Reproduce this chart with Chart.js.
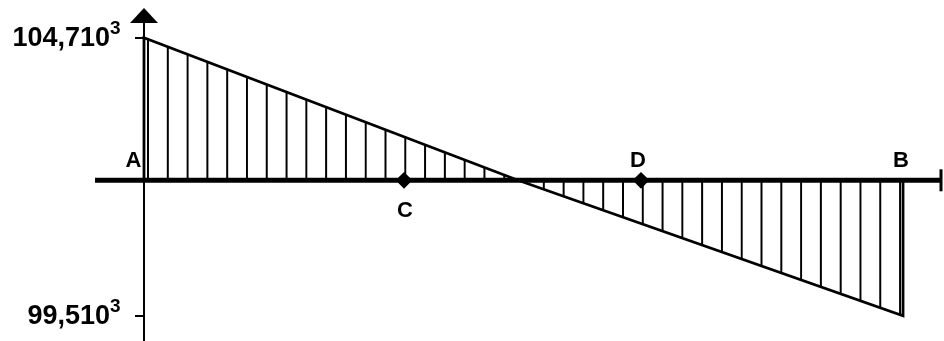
<!DOCTYPE html>
<html>
<head>
<meta charset="utf-8">
<script src="https://cdn.jsdelivr.net/npm/chart.js@4.4.1/dist/chart.umd.min.js"></script>
<style>
  html, body { margin: 0; padding: 0; background: #fff; }
  #wrap { width: 944px; height: 341px; }
</style>
</head>
<body>
<div id="wrap"><canvas id="chart"></canvas></div>
<script>
// shear force along the beam A-B, x as a fraction of the span
const shearX = [0, 0.4928, 1];
const shearV = [104.71, 0, -99.51];
const markNames = ["A", "C", "D", "B"];
const markX = [0, 0.3426, 0.6548, 1];
const pointX = [0.3426, 0.6548];
const yTicks = [104.71, -99.51];
const yTickLabels = ["104,710", "99,510"];
const yTickExp = "3";

const last = shearX.length - 1;
const shearData = [{ x: shearX[0], y: 0 }]
  .concat(shearX.map((x, i) => ({ x: x, y: shearV[i] })))
  .concat([{ x: shearX[last], y: 0 }]);

function hatch(ctx) {
  const c = document.createElement("canvas");
  c.width = 20;
  c.height = 20;
  const g = c.getContext("2d");
  g.fillStyle = "#000";
  g.fillRect(0, 0, 2, 20);
  const p = ctx.createPattern(c, "repeat");
  p.setTransform(new DOMMatrix().translate(147, 0).scale(0.9895, 1));
  return p;
}

const sketch = {
  id: "sketch",
  beforeDatasetsDraw(chart) {
    const ctx = chart.ctx;
    const x0 = chart.scales.x.getPixelForValue(0);
    const y0 = chart.scales.y.getPixelForValue(0);
    ctx.save();
    ctx.strokeStyle = "#000";
    ctx.fillStyle = "#000";
    // horizontal axis
    ctx.lineWidth = 5;
    ctx.beginPath();
    ctx.moveTo(95, y0);
    ctx.lineTo(941, y0);
    ctx.stroke();
    ctx.lineWidth = 3;
    ctx.beginPath();
    ctx.moveTo(941, y0 - 11);
    ctx.lineTo(941, y0 + 11);
    ctx.stroke();
    // vertical axis with arrow
    ctx.lineWidth = 2;
    ctx.beginPath();
    ctx.moveTo(x0, 20);
    ctx.lineTo(x0, 341);
    ctx.stroke();
    ctx.beginPath();
    ctx.moveTo(x0, 8);
    ctx.lineTo(x0 - 14, 23);
    ctx.lineTo(x0 + 14, 23);
    ctx.closePath();
    ctx.fill();
    ctx.restore();
  },
  afterDraw(chart) {
    const ctx = chart.ctx;
    const xs = chart.scales.x;
    const ys = chart.scales.y;
    const y0 = ys.getPixelForValue(0);
    ctx.save();
    ctx.fillStyle = "#000";
    ctx.font = "bold 22px 'Liberation Sans'";
    ctx.textAlign = "center";
    ctx.textBaseline = "middle";
    const dx = { A: -10.5, C: 1, D: -3, B: -2 };
    markNames.forEach((n, i) => {
      const below = n === "C";
      ctx.fillText(n, xs.getPixelForValue(markX[i]) + dx[n], below ? y0 + 31 : y0 - 19);
    });
    ctx.textBaseline = "alphabetic";
    yTicks.forEach((v, i) => {
      const py = ys.getPixelForValue(v);
      ctx.font = "bold 27px 'Liberation Sans'";
      ctx.textAlign = "right";
      ctx.fillText(yTickLabels[i], 110, py + 8.5);
      ctx.font = "bold 19px 'Liberation Sans'";
      ctx.textAlign = "left";
      ctx.fillText(yTickExp, 110, py - 4);
    });
    ctx.restore();
  }
};

const ctx = document.getElementById("chart").getContext("2d");
new Chart(ctx, {
  type: "line",
  data: {
    datasets: [
      {
        label: "Effort tranchant",
        data: shearData,
        borderColor: "#000",
        borderWidth: 2.8,
        backgroundColor: hatch(ctx),
        fill: "origin",
        tension: 0,
        pointRadius: 0,
        clip: false,
      },
      {
        label: "Points",
        data: pointX.map((x) => ({ x: x, y: 0 })),
        showLine: false,
        pointStyle: "rectRot",
        pointRadius: 7,
        borderWidth: 2,
        borderColor: "#000",
        backgroundColor: "#000",
        clip: false,
      },
    ],
  },
  options: {
    responsive: true,
    maintainAspectRatio: false,
    animation: false,
    layout: { padding: 0, autoPadding: false },
    plugins: {
      legend: { display: false },
      tooltip: { enabled: false },
    },
    scales: {
      x: { type: "linear", min: 0, max: 1.054, display: false },
      y: {
        min: -118.05,
        max: 132.45,
        afterBuildTicks: (s) => {
          s.ticks = yTicks.map((v) => ({ value: v }));
        },
        afterFit: (s) => {
          s.width = 144;
          s.paddingTop = 0;
          s.paddingBottom = 0;
        },
        ticks: { display: false },
        grid: { drawOnChartArea: false, drawTicks: true, tickLength: 9, color: "#000", lineWidth: 2 },
        border: { display: false },
      },
    },
  },
  plugins: [sketch],
});
</script>
</body>
</html>
